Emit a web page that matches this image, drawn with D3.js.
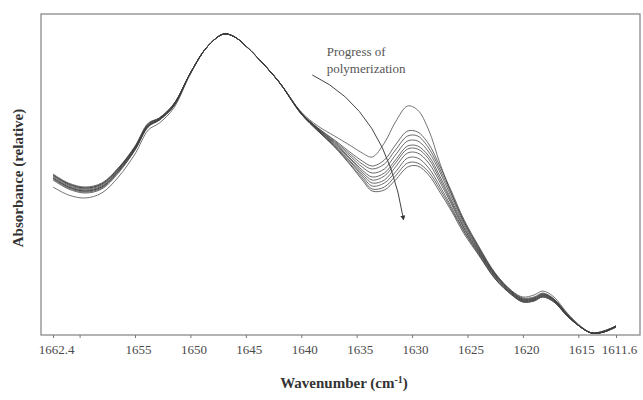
<!DOCTYPE html>
<html>
<head>
<meta charset="utf-8">
<script src="https://cdn.jsdelivr.net/npm/d3@7"></script>
<style>
  body { margin: 0; background: #fff; }
  svg { display: block; }
</style>
</head>
<body>
<svg id="chart"></svg>
<script>
// wavenumber grid (cm-1), shared by all spectra
const wavenumbers = [1662.4, 1661, 1659.5, 1658, 1656.5, 1655, 1653.8, 1652.8, 1651.5, 1650,
  1648.5, 1647, 1646, 1645, 1644, 1642, 1640, 1638.5, 1637, 1635.5, 1634.5, 1633.6, 1632.5,
  1631.5, 1630.4, 1629.5, 1628.5, 1627.5, 1626.5, 1625.3, 1624, 1622.5, 1621, 1620, 1619,
  1618.2, 1617.2, 1616, 1614.8, 1613.8, 1612.7, 1611.6]

// relative absorbance, one row per spectrum (first = start of polymerization)
const spectra = [
  [.148, .140, .137, .142, .158, .181, .205, .212, .227, .261, .288, .301, .298, .289, .278, .253,
   .223, .209, .199, .189, .182, .178, .192, .213, .229, .225, .205, .172, .143, .113, .087, .061,
   .044, .038, .040, .044, .038, .022, .009, .002, .003, .009],
  [.161, .152, .148, .152, .167, .189, .212, .217, .231, .262, .288, .301, .298, .289, .278, .253,
   .222, .207, .195, .182, .174, .169, .175, .190, .204, .203, .191, .169, .145, .115, .089, .062,
   .044, .037, .038, .042, .036, .021, .008, .002, .004, .009],
  [.160, .151, .147, .151, .167, .188, .211, .217, .231, .262, .288, .301, .298, .289, .278, .253,
   .222, .207, .194, .180, .171, .166, .171, .185, .199, .199, .187, .166, .142, .113, .088, .061,
   .043, .036, .037, .041, .036, .021, .008, .002, .004, .009],
  [.160, .151, .147, .151, .166, .188, .211, .217, .231, .262, .288, .301, .298, .289, .278, .253,
   .222, .206, .193, .178, .168, .162, .166, .180, .194, .194, .183, .163, .139, .111, .086, .060,
   .043, .036, .037, .041, .035, .020, .008, .002, .004, .009],
  [.159, .150, .146, .150, .166, .187, .210, .216, .230, .262, .288, .301, .298, .289, .278, .253,
   .222, .206, .192, .176, .165, .158, .162, .175, .189, .189, .179, .159, .136, .109, .085, .059,
   .042, .035, .036, .040, .035, .020, .008, .002, .003, .009],
  [.158, .149, .145, .149, .165, .187, .210, .216, .230, .262, .288, .301, .298, .289, .278, .253,
   .222, .206, .191, .175, .163, .155, .159, .172, .186, .186, .176, .156, .134, .107, .084, .059,
   .042, .035, .036, .040, .035, .020, .008, .002, .003, .009],
  [.157, .148, .144, .148, .164, .186, .209, .216, .230, .262, .288, .301, .298, .289, .278, .253,
   .221, .205, .190, .173, .161, .152, .155, .168, .182, .182, .172, .153, .132, .106, .083, .058,
   .041, .034, .035, .039, .034, .019, .008, .002, .003, .008],
  [.157, .148, .144, .148, .164, .186, .209, .215, .229, .262, .288, .301, .298, .289, .278, .253,
   .221, .205, .189, .172, .159, .149, .152, .163, .177, .177, .167, .149, .129, .104, .082, .057,
   .041, .034, .035, .039, .034, .019, .008, .002, .003, .008],
  [.156, .147, .143, .147, .163, .185, .209, .215, .229, .262, .288, .301, .298, .289, .278, .253,
   .221, .204, .189, .170, .157, .146, .148, .159, .172, .172, .163, .146, .127, .103, .081, .056,
   .040, .033, .034, .038, .033, .019, .008, .002, .003, .008],
  [.155, .146, .142, .146, .162, .185, .208, .215, .229, .262, .288, .301, .298, .289, .278, .253,
   .221, .204, .188, .169, .155, .144, .145, .155, .168, .169, .160, .143, .125, .101, .080, .056,
   .040, .033, .034, .038, .033, .019, .008, .002, .003, .008]
]

const tickValues = [1662.4, 1660, 1655, 1650, 1645, 1640, 1635, 1630, 1625, 1620, 1615, 1611.6]
const hiddenTicks = [1660]

// annotation, in data units
const noteLines = ["Progress of", "polymerization"]
const notePos = { w: 1637.7, a: 0.279 }
const arrowStart = { w: 1639.0, a: 0.260 }
const arrowCtrl = { w: 1632.4, a: 0.225 }
const arrowEnd = { w: 1630.8, a: 0.117 }

const W = 643, H = 400
const box = { left: 41, top: 14, right: 640, bottom: 335 }

const svg = d3.select('#chart')
  .attr('width', W)
  .attr('height', H)
  .style('font-family', '"Liberation Serif", "Times New Roman", serif')

// scales
const x = d3.scaleLinear()
  .domain([1662.4, 1611.6])
  .range([53, 616])

const y = d3.scaleLinear()
  .domain([0, 0.321])
  .range([box.bottom, box.top])

// frame
svg.append('rect')
  .attr('x', box.left)
  .attr('y', box.top)
  .attr('width', box.right - box.left)
  .attr('height', box.bottom - box.top)
  .attr('fill', 'none')
  .attr('stroke', '#8a8a8a')
  .attr('stroke-width', 1.3)

// x axis
const xAxis = d3.axisBottom(x)
  .tickValues(tickValues)
  .tickSize(3)
  .tickSizeOuter(0)
  .tickFormat(d => hiddenTicks.includes(d) ? '' : d3.format('')(d))

const gx = svg.append('g')
  .attr('transform', `translate(0, ${box.bottom})`)
  .call(xAxis)
gx.select('.domain').remove()
gx.selectAll('line').attr('stroke', '#777')
gx.selectAll('text')
  .attr('y', 10)
  .attr('dx', 3)
  .attr('fill', '#4a4a4a')
  .style('font-size', '13px')
  .style('font-family', '"Liberation Serif", serif')

// spectra
const line = d3.line()
  .x((d, i) => x(wavenumbers[i]))
  .y(d => y(d))
  .curve(d3.curveCatmullRom.alpha(0.5))

svg.append('g')
  .selectAll('path')
  .data(spectra)
  .join('path')
  .attr('d', line)
  .attr('fill', 'none')
  .attr('stroke', (d, i) => i === 0 ? '#5a5a5a' : '#3c3c3c')
  .attr('stroke-width', (d, i) => i === 0 ? 1 : 0.9)
  .attr('stroke-opacity', 0.85)

// annotation
svg.append('defs').append('marker')
  .attr('id', 'head')
  .attr('viewBox', '0 0 10 10')
  .attr('refX', 5)
  .attr('refY', 5)
  .attr('markerWidth', 5)
  .attr('markerHeight', 5)
  .attr('orient', 'auto')
  .append('path')
  .attr('d', 'M0,0 L10,5 L0,10 z')
  .attr('fill', '#333')

svg.append('path')
  .attr('d', `M${x(arrowStart.w)},${y(arrowStart.a)} Q${x(arrowCtrl.w)},${y(arrowCtrl.a)} ${x(arrowEnd.w)},${y(arrowEnd.a)}`)
  .attr('fill', 'none')
  .attr('stroke', '#444')
  .attr('stroke-width', 1)
  .attr('marker-end', 'url(#head)')

svg.append('text')
  .attr('x', x(notePos.w))
  .attr('y', y(notePos.a))
  .attr('fill', '#555')
  .style('font-size', '13px')
  .selectAll('tspan')
  .data(noteLines)
  .join('tspan')
  .attr('x', x(notePos.w))
  .attr('dy', (d, i) => i === 0 ? 0 : 17)
  .text(d => d)

// axis titles
const xt = svg.append('text')
  .attr('x', 344)
  .attr('y', 388)
  .attr('text-anchor', 'middle')
  .attr('fill', '#333')
  .style('font-size', '15px')
  .style('font-weight', 'bold')
xt.append('tspan').text('Wavenumber (cm')
xt.append('tspan').attr('dy', -5).style('font-size', '10px').text('-1')
xt.append('tspan').attr('dy', 5).text(')')

svg.append('text')
  .attr('transform', 'translate(23, 178) rotate(-90)')
  .attr('text-anchor', 'middle')
  .attr('fill', '#333')
  .style('font-size', '15px')
  .style('font-weight', 'bold')
  .text('Absorbance (relative)')
</script>
</body>
</html>
